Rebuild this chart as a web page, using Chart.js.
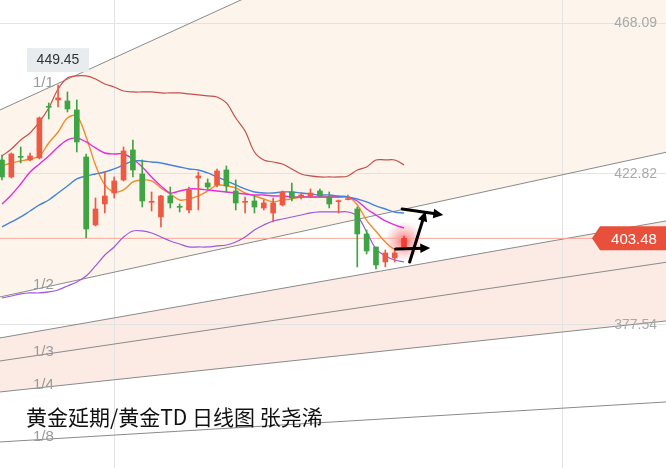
<!DOCTYPE html>
<html>
<head>
<meta charset="utf-8">
<script src="https://cdn.jsdelivr.net/npm/chart.js@4.4.1/dist/chart.umd.min.js"></script>
<style>
  html, body { margin: 0; padding: 0; background: #fff; }
  #wrap { width: 666px; height: 468px; position: relative; }
</style>
</head>
<body>
<div id="wrap"><canvas id="c"></canvas></div>
<script>
// daily candles (price units)
const opens  = [427.0, 421.9, 428.0, 427.0, 427.6, 443.0, 445.0, 444.7, 442.0, 427.9, 407.5, 413.8, 417.1, 421.0, 430.0, 422.8, 414.3, 409.9, 416.2, 413.0, 412.0, 421.6, 420.1, 419.5, 424.0, 417.7, 414.3, 414.7, 412.6, 411.1, 413.5, 417.4, 415.9, 416.2, 417.7, 415.9, 414.5, 415.1, 412.3, 404.8, 400.9, 396.4, 397.6, 400.9];
const highs  = [428.5, 429.1, 430.9, 429.1, 439.9, 444.1, 449.45, 447.4, 445.0, 428.8, 415.6, 423.4, 421.9, 430.9, 433.0, 427.0, 417.4, 416.4, 418.9, 413.8, 418.9, 423.4, 421.3, 424.3, 425.2, 421.0, 415.9, 416.2, 415.0, 415.6, 417.7, 420.1, 417.1, 418.3, 418.3, 417.4, 415.0, 416.5, 412.9, 406.0, 400.9, 400.0, 400.0, 404.2];
const lows   = [421.0, 421.6, 426.1, 426.7, 427.3, 439.3, 442.9, 441.4, 429.4, 403.6, 407.2, 411.1, 415.6, 420.7, 421.9, 412.9, 411.7, 406.9, 412.6, 411.4, 411.1, 412.0, 418.3, 418.9, 417.4, 412.0, 411.1, 411.1, 412.0, 408.4, 413.2, 414.7, 415.3, 415.9, 415.9, 412.6, 411.1, 415.0, 394.9, 398.8, 394.3, 394.9, 396.4, 400.6];
const closes = [421.9, 428.8, 427.8, 428.2, 439.6, 442.8, 445.6, 442.3, 432.4, 406.3, 412.3, 416.2, 420.7, 429.7, 424.0, 414.7, 414.5, 416.2, 414.1, 412.8, 418.0, 422.2, 418.9, 423.7, 419.2, 414.1, 414.5, 412.9, 414.1, 414.1, 417.4, 415.6, 416.5, 417.1, 416.2, 413.8, 414.8, 415.4, 404.8, 399.7, 395.5, 399.1, 399.1, 403.48];

// bollinger bands and moving averages
const upperBand = [428.2, 430.3, 433.0, 435.1, 438.4, 442.6, 448.3, 451.6, 452.2, 452.2, 451.3, 449.8, 448.9, 447.7, 447.4, 447.4, 447.4, 447.1, 447.1, 447.1, 446.8, 446.5, 446.2, 445.9, 444.1, 439.6, 435.7, 429.4, 427.0, 426.4, 425.8, 424.3, 422.8, 422.2, 421.9, 421.9, 421.9, 422.2, 424.0, 424.9, 427.0, 427.0, 427.0, 425.5];
const lowerBand = [385.6, 386.2, 386.8, 387.1, 387.1, 387.4, 388.0, 389.2, 390.4, 392.2, 395.2, 398.5, 400.9, 403.9, 405.7, 405.7, 405.1, 403.9, 402.7, 401.8, 400.9, 400.9, 400.9, 401.2, 401.5, 402.4, 403.9, 406.0, 407.5, 408.7, 409.3, 409.9, 410.5, 411.1, 411.4, 411.4, 411.4, 411.4, 410.2, 405.4, 400.3, 398.2, 397.0, 396.4];
const maBlue    = [406.9, 408.4, 409.9, 411.7, 413.5, 415.0, 417.1, 419.2, 421.3, 422.2, 422.8, 423.4, 424.3, 425.5, 426.7, 426.7, 426.4, 426.1, 425.5, 424.9, 424.3, 424.0, 423.1, 421.9, 420.7, 419.5, 418.3, 417.4, 417.1, 417.1, 417.4, 417.4, 417.1, 416.8, 416.5, 416.5, 416.2, 415.9, 415.3, 414.4, 413.2, 412.3, 411.4, 411.1];
const maPink    = [413.8, 416.5, 419.8, 423.4, 425.8, 428.2, 430.9, 433.0, 433.6, 432.4, 430.6, 429.1, 428.8, 428.8, 427.3, 424.9, 421.9, 419.2, 417.1, 417.7, 418.3, 418.3, 418.0, 417.7, 417.4, 417.1, 416.8, 416.5, 416.5, 416.2, 416.2, 415.9, 415.9, 415.9, 415.9, 415.9, 415.9, 415.9, 414.7, 412.3, 410.5, 408.7, 407.5, 406.6];
const maOrange  = [425.2, 426.1, 426.7, 427.3, 428.2, 432.1, 435.4, 439.6, 440.2, 433.9, 425.5, 419.5, 417.4, 418.0, 420.4, 421.0, 420.7, 418.6, 416.8, 415.0, 415.3, 416.2, 417.7, 419.5, 419.2, 418.6, 417.1, 416.2, 415.3, 414.4, 415.0, 415.3, 415.9, 415.9, 415.9, 415.9, 415.9, 415.9, 413.5, 408.9, 405.6, 402.4, 400.3, 400.6];

// gann fan lines: price at left edge and right edge of the view
const fanNames = ['1/1', '1/2', '', '1/3', '1/4', '1/8'];
const fanStart = [442.0, 385.9, 373.6, 366.7, 357.4, 342.4];
const fanEnd   = [533.2, 429.3, 408.7, 396.3, 378.7, 354.4];

const yTickValues = [468.09, 422.82, 377.54];
const xGridValues = [12, 60];
const LAST = 403.48, PEAK = 449.45;
const X_MIN = -0.214, X_MAX = 71.02, Y_MIN = 334.59, Y_MAX = 474.99;

// hand drawn arrows: [x0, y0, x1, y1] in (candle index, price)
const arrows = [
    [42.8, 412.3, 47.2, 410.5],
    [43.6, 396.4, 45.3, 411.6],
    [42.1, 400.3, 45.8, 400.6]
];

const idx = closes.map((_, i) => i);
const UP = '#ec5a43', DOWN = '#3fa544';
const candleColors = idx.map(i => i === idx.length - 1 ? '#f43a32' : (closes[i] >= opens[i] ? UP : DOWN));
const pts = arr => idx.map(i => ({ x: i, y: arr[i] }));

function lineSet(arr, color, width) {
    return { type: 'line', data: pts(arr), borderColor: color, borderWidth: width || 1.2, pointRadius: 0, tension: 0.35, fill: false, order: 2 };
}

const fanSets = fanStart.map((v, i) => ({
    type: 'line',
    data: [{ x: X_MIN, y: v }, { x: X_MAX, y: fanEnd[i] }],
    borderColor: '#8a8a8a',
    borderWidth: 1,
    pointRadius: 0,
    fill: false,
    order: 5
}));
fanSets[0].fill = 1;                 // 1/1 -> 1/2
fanSets[0].backgroundColor = '#fdf4ec';
fanSets[2].fill = 4;                 // upper channel line -> 1/4
fanSets[2].backgroundColor = '#fcebe5';

const datasets = [
    ...fanSets,
    { type: 'line', data: [{ x: X_MIN, y: LAST }, { x: X_MAX, y: LAST }], borderColor: '#f3a99b', borderWidth: 1, pointRadius: 0, fill: false, order: 4 },
    lineSet(upperBand, '#c2504a'),
    lineSet(lowerBand, '#9d58dc'),
    lineSet(maBlue, '#4584d6', 1.4),
    lineSet(maPink, '#e22ee0', 1.4),
    lineSet(maOrange, '#f08c2c', 1.4),
    { type: 'bar', data: idx.map(i => ({ x: i, y: [lows[i], highs[i]] })), backgroundColor: candleColors, barThickness: 1, grouped: false, order: 1 },
    { type: 'bar', data: idx.map(i => ({ x: i, y: [opens[i], closes[i]] })), backgroundColor: candleColors, barThickness: 5, minBarLength: 1, grouped: false, order: 0 }
];

const overlay = {
    id: 'overlay',
    beforeDatasetsDraw(chart) {
        const { ctx, scales: { x, y } } = chart;
        const gx = x.getPixelForValue(idx.length - 1), gy = y.getPixelForValue(LAST) + 3;
        const g = ctx.createRadialGradient(gx, gy, 0, gx, gy, 20);
        g.addColorStop(0, 'rgba(250,60,60,0.75)');
        g.addColorStop(0.5, 'rgba(250,90,90,0.35)');
        g.addColorStop(1, 'rgba(250,120,120,0)');
        ctx.save();
        ctx.fillStyle = g;
        ctx.beginPath();
        ctx.arc(gx, gy, 20, 0, Math.PI * 2);
        ctx.fill();
        ctx.restore();
    },
    afterDraw(chart) {
        const { ctx, chartArea: a, scales: { x, y } } = chart;
        ctx.save();

        // arrows
        ctx.strokeStyle = '#000';
        ctx.fillStyle = '#000';
        ctx.lineWidth = 3;
        ctx.lineCap = 'round';
        arrows.forEach(([x0, y0, x1, y1]) => {
            const p0 = [x.getPixelForValue(x0), y.getPixelForValue(y0)];
            const p1 = [x.getPixelForValue(x1), y.getPixelForValue(y1)];
            const ang = Math.atan2(p1[1] - p0[1], p1[0] - p0[0]);
            ctx.beginPath();
            ctx.moveTo(p0[0], p0[1]);
            ctx.lineTo(p1[0] - 6 * Math.cos(ang), p1[1] - 6 * Math.sin(ang));
            ctx.stroke();
            ctx.beginPath();
            ctx.moveTo(p1[0], p1[1]);
            ctx.lineTo(p1[0] - 11 * Math.cos(ang - 0.45), p1[1] - 11 * Math.sin(ang - 0.45));
            ctx.lineTo(p1[0] - 11 * Math.cos(ang + 0.45), p1[1] - 11 * Math.sin(ang + 0.45));
            ctx.closePath();
            ctx.fill();
        });

        // price labels on the right
        ctx.font = '14px "Liberation Sans", sans-serif';
        ctx.fillStyle = '#a9a9a9';
        ctx.textAlign = 'right';
        ctx.textBaseline = 'middle';
        yTickValues.forEach(v => ctx.fillText(v.toFixed(2), a.right - 9, y.getPixelForValue(v)));

        // last price tag
        const ly = y.getPixelForValue(LAST);
        ctx.fillStyle = '#e9503c';
        ctx.beginPath();
        ctx.moveTo(a.right - 74, ly);
        ctx.lineTo(a.right - 66, ly - 12);
        ctx.lineTo(a.right, ly - 12);
        ctx.lineTo(a.right, ly + 12);
        ctx.lineTo(a.right - 66, ly + 12);
        ctx.closePath();
        ctx.fill();
        ctx.fillStyle = '#fff';
        ctx.font = '15px "Liberation Sans", sans-serif';
        ctx.textAlign = 'center';
        ctx.fillText(LAST.toFixed(2), a.right - 32, ly + 1);

        // high label
        const hy = y.getPixelForValue(PEAK);
        ctx.fillStyle = '#e9ecef';
        ctx.fillRect(27, hy - 37, 62, 24);
        ctx.fillStyle = '#333';
        ctx.font = '14px "Liberation Sans", sans-serif';
        ctx.fillText(PEAK.toFixed(2), 58, hy - 25);

        // fan labels
        ctx.font = '15px "Liberation Sans", sans-serif';
        ctx.fillStyle = '#9a9a9a';
        ctx.textAlign = 'left';
        fanNames.forEach((n, i) => {
            if (!n) return;
            const px = 45;
            const v = fanStart[i] + (fanEnd[i] - fanStart[i]) * (x.getValueForPixel(px) - X_MIN) / (X_MAX - X_MIN);
            const off = i === 0 ? 7 : 2;
            ctx.fillText(n, 33, y.getPixelForValue(v) - off);
        });

        // title
        ctx.font = '21px "Noto Sans CJK SC", sans-serif';
        ctx.fillStyle = '#111';
        ctx.fillText('黄金延期/黄金TD 日线图 张尧浠', 26, 417);
        ctx.restore();
    }
};

new Chart(document.getElementById('c'), {
    type: 'bar',
    data: { datasets },
    options: {
        responsive: true,
        maintainAspectRatio: false,
        animation: false,
        layout: { padding: 0 },
        plugins: {
            legend: { display: false },
            tooltip: { enabled: false },
            filler: { drawTime: 'beforeDraw' }
        },
        scales: {
            x: {
                type: 'linear',
                min: X_MIN,
                max: X_MAX,
                offset: false,
                afterBuildTicks: s => { s.ticks = xGridValues.map(v => ({ value: v })); },
                ticks: { display: false },
                grid: { color: '#e3e3e3', drawTicks: false, offset: false },
                border: { display: false }
            },
            y: {
                min: Y_MIN,
                max: Y_MAX,
                afterBuildTicks: s => { s.ticks = yTickValues.map(v => ({ value: v })); },
                ticks: { display: false },
                grid: { color: '#e3e3e3', drawTicks: false },
                border: { display: false }
            }
        }
    },
    plugins: [overlay]
});
</script>
</body>
</html>
